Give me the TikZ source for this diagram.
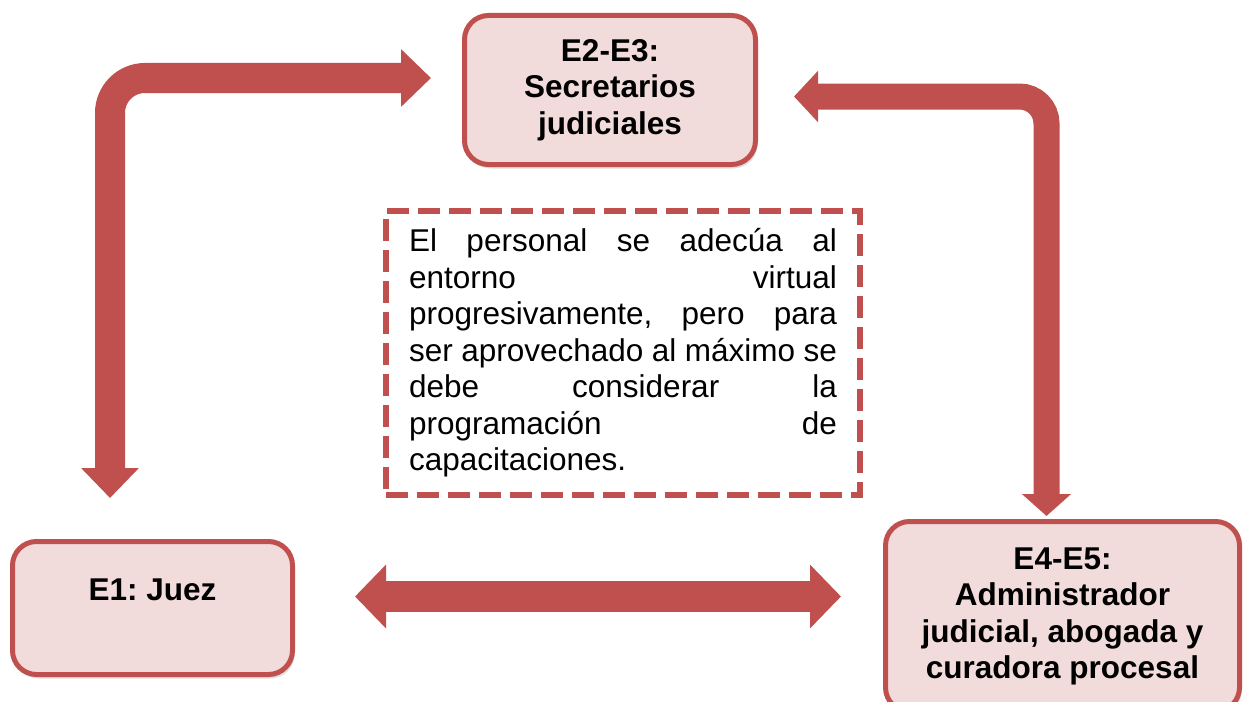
\documentclass[tikz,border=0pt]{standalone}
\usepackage{fontspec}
\setmainfont{Liberation Sans}
\usetikzlibrary{arrows.meta,shadows}

\definecolor{arrowred}{HTML}{C0504D}
\definecolor{boxpink}{HTML}{F2DCDB}
\newcommand{\jline}[1]{{\spaceskip=0pt\xspaceskip=0pt\makebox[428pt][s]{#1}}}

\tikzset{
  rolebox/.style={draw=arrowred, fill=boxpink, line width=5pt, rounded corners=24pt,
    align=center, font=\bfseries\frenchspacing\fontsize{31.5}{36.5}\selectfont,
    drop shadow={shadow xshift=2pt, shadow yshift=-4pt, opacity=0.25}},
  notebox/.style={draw=arrowred, line width=6pt, dash pattern=on 22pt off 9pt,
    text width=428pt, align=left, inner xsep=23pt, inner ysep=0pt,
    font=\frenchspacing\fontsize{31.5}{36.5}\selectfont},
  flowarrow/.style={draw=arrowred, line width=#1}
}

\begin{document}
\begin{tikzpicture}[x=1pt, y=-1pt]
	\useasboundingbox (0,0) rectangle (1244,701);
	\clip (0,0) rectangle (1244,701);

	% The three groups of staff
	\node (sec) at (610,90) [rolebox, minimum width=291pt, minimum height=149pt]
		{E2-E3:\\Secretarios\\judiciales};
	\node (juez) at (152.5,608) [rolebox, minimum width=280pt, minimum height=133pt]
		{E1: Juez\\ \mbox{}};
	\node (adm) at (1062.5,616.5) [rolebox, minimum width=354pt, minimum height=190pt]
		{E4-E5:\\Administrador\\judicial, abogada y\\curadora procesal};

	% The note in the middle
	\node (nota) at (623,353) [notebox, minimum height=284pt] {%
		\jline{El personal se adecúa al}\\
		\jline{entorno virtual}\\
		\jline{progresivamente, pero para}\\
		\jline{ser aprovechado al máximo se}\\
		\jline{debe considerar la}\\
		\jline{programación de}\\
		capacitaciones.};

	% Corners of the bent arrows
	\coordinate (kL) at (110,78);
	\coordinate (kR) at (1046.5,96.5);
	\coordinate (kM) at (0,596.5);

	% Now the arrows between the groups
	\draw [flowarrow=30pt, rounded corners=35pt, shorten <=41pt, shorten >=31pt,
		{Triangle[length=30pt,width=56pt]}-{Triangle[length=30pt,width=56pt]}]
		(kL |- juez.north) -- (kL) -- (kL -| sec.west);
	\draw [flowarrow=26pt, rounded corners=27pt, shorten <=36pt, shorten >=3pt,
		{Triangle[length=24pt,width=50pt]}-{Triangle[length=22pt,width=48pt]}]
		(kR -| sec.east) -- (kR) -- (kR |- adm.north);
	\draw [flowarrow=31pt, shorten <=60pt, shorten >=42pt,
		{Triangle[length=31pt,width=62pt]}-{Triangle[length=31pt,width=62pt]}]
		(kM -| juez.east) -- (kM -| adm.west);
\end{tikzpicture}
\end{document}
